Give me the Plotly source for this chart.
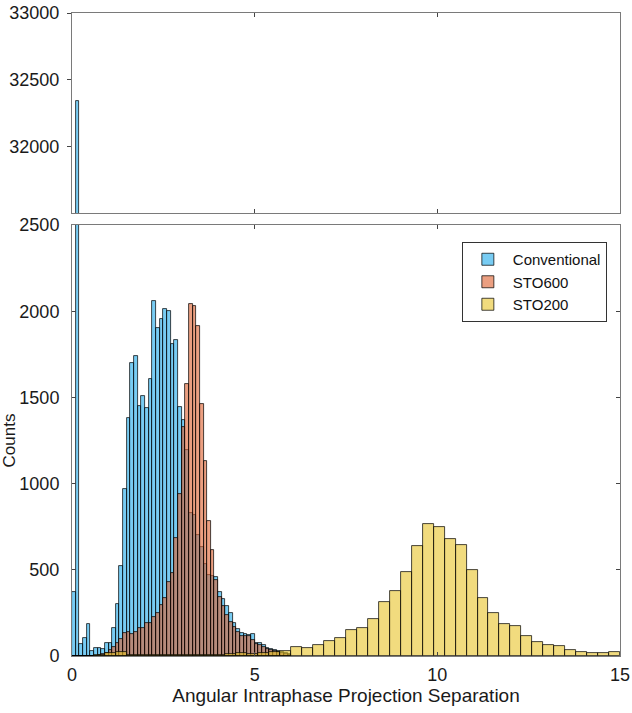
import numpy as np
import plotly.graph_objects as go

# ---- data ----
fine_bin_width = 0.1
coarse_bin_width = 0.3

conventional = [373, 32340, 70, 106, 184, 27, 48, 48, 39, 74,
                74, 165, 302, 520, 967, 1378, 1697, 1740, 1452, 1510,
                1437, 1605, 2059, 1901, 1953, 2013, 2003, 1810, 1833, 1442,
                1369, 1197, 830, 818, 700, 634, 534, 470, 465, 460,
                373, 332, 290, 251, 190, 155, 131, 126, 122, 126,
                77, 78, 64, 48, 39, 33, 31, 25, 15, 10]

sto600 = [0, 0, 0, 0, 0, 0, 0, 5, 10, 18,
          35, 50, 74, 97, 132, 141, 126, 141, 161, 161,
          190, 190, 228, 248, 296, 335, 431, 480, 683, 940,
          1330, 1576, 2042, 2030, 1914, 1460, 1129, 781, 615, 441,
          340, 290, 240, 200, 170, 140, 118, 115, 118, 95,
          70, 66, 55, 42, 35, 28, 25, 20, 12, 8]

sto200 = [0, 2, 8, 16, 25, 8, 6, 5, 5, 4,
          5, 6, 7, 8, 10, 15, 14, 18, 25, 29,
          54, 47, 66, 89, 106, 153, 164, 217, 311, 375,
          485, 640, 767, 750, 677, 644, 497, 335, 251, 186,
          176, 118, 83, 66, 58, 33, 25, 16, 16, 25]

series_names = ["Conventional", "STO600", "STO200"]
x_ticks = [0, 5, 10, 15]
y_ticks_low = [0, 500, 1000, 1500, 2000, 2500]
y_ticks_high = [32000, 32500, 33000]

colors = ["rgba(30,170,235,0.6)", "rgba(222,95,45,0.6)", "rgba(232,195,40,0.6)"]


def centers(n, w):
    return (np.arange(n) + 0.5) * w


series = [
    (series_names[0], conventional, fine_bin_width, colors[0]),
    (series_names[1], sto600, fine_bin_width, colors[1]),
    (series_names[2], sto200, coarse_bin_width, colors[2]),
]

fig = go.Figure()
for name, vals, w, col in series:
    xc = centers(len(vals), w)
    for ax, show in (("", True), ("2", False)):
        fig.add_trace(go.Bar(
            x=xc, y=vals, width=w, name=name,
            marker=dict(color=col, line=dict(color="rgba(0,0,0,0.9)", width=0.8)),
            xaxis="x" + ax, yaxis="y" + ax, showlegend=show,
        ))

W, H = 632, 713
ml, mr, mt, mb = 72, 12, 13, 57
ph = H - mt - mb
low_top = (656 - 225) / ph
high_bot = (656 - 213) / ph

font = "Liberation Sans, Arial, sans-serif"
axcol = "#7a7a7a"
common_x = dict(range=[0, 15], tickvals=x_ticks, showline=True, linecolor=axcol,
                linewidth=1, mirror="ticks", ticks="inside", ticklen=4,
                tickcolor="#444", showgrid=False, zeroline=False, automargin=False)

fig.update_layout(
    width=W, height=H,
    margin=dict(l=ml, r=mr, t=mt, b=mb),
    paper_bgcolor="white", plot_bgcolor="white",
    barmode="overlay", bargap=0,
    font=dict(family=font, size=18, color="#1a1a1a"),
    xaxis=dict(**common_x, domain=[0, 1], anchor="y", ticklabelstandoff=2,
               title=dict(text="Angular Intraphase Projection Separation",
                          font=dict(size=19), standoff=2)),
    yaxis=dict(range=[0, 2500], tickvals=y_ticks_low, domain=[0, low_top],
               showline=True, linecolor=axcol, linewidth=1, mirror="ticks",
               ticks="inside", ticklen=4, tickcolor="#444", showgrid=False,
               zeroline=False, ticklabelstandoff=8, automargin=False,
               tickformat="d",
               title=dict(text="Counts", font=dict(size=17), standoff=0)),
    xaxis2=dict(**common_x, domain=[0, 1], anchor="y2", showticklabels=False),
    yaxis2=dict(range=[31500, 33000], tickvals=y_ticks_high, domain=[high_bot, 1],
                showline=True, linecolor=axcol, linewidth=1, mirror=True,
                ticks="outside", ticklen=4, tickcolor="#444", showgrid=False,
                zeroline=False, ticklabelstandoff=4, automargin=False,
                tickformat="d"),
    legend=dict(x=0.976, y=(656 - 242) / ph, xanchor="right", yanchor="top",
                bgcolor="white", bordercolor="#333", borderwidth=1,
                font=dict(size=15, color="#111"), itemwidth=40,
                tracegroupgap=0),
)

fig.write_html("out.html")
